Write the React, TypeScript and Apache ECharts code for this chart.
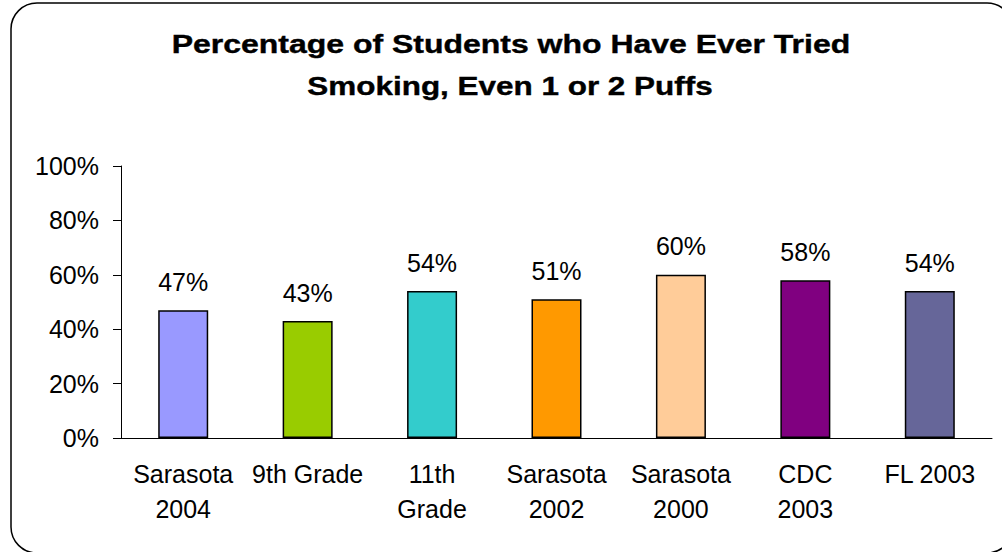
import React, { useEffect, useRef } from "react";
import * as echarts from "echarts";

const categories = ["Sarasota\n2004", "9th Grade", "11th\nGrade", "Sarasota\n2002", "Sarasota\n2000", "CDC\n2003", "FL 2003"];
const values = [47, 43, 54, 51, 60, 58, 54];
const barColors = ["#9999FF", "#99CC00", "#33CCCC", "#FF9900", "#FFCC99", "#800080", "#666699"];
const titleLines = ["Percentage of Students who Have Ever Tried", "Smoking, Even 1 or 2 Puffs"];

const FONT = "'Liberation Sans', Arial, sans-serif";

export default function App() {
  const ref = useRef<HTMLDivElement>(null);
  useEffect(() => {
    if (!ref.current) return;
    const chart = echarts.init(ref.current, null, { renderer: "svg" });
    chart.setOption({
      animation: false,
      backgroundColor: "#ffffff",
      textStyle: { fontFamily: FONT, color: "#000" },
      graphic: [
        {
          type: "rect",
          shape: { x: 11, y: 3, width: 1002, height: 550, r: 26 },
          style: { fill: "none", stroke: "#000", lineWidth: 1.5 },
          silent: true,
        },
        ...titleLines.map((t, i) => ({
          type: "text",
          x: i === 0 ? 511 : 510,
          y: i === 0 ? 44 : 86,
          scaleX: i === 0 ? 1.23 : 1.21,
          style: {
            text: t,
            fontSize: 26,
            fontWeight: "bold",
            fontFamily: FONT,
            fill: "#000",
            stroke: "#000",
            lineWidth: 0.4,
            align: "center",
            verticalAlign: "middle",
          },
        })),
      ],
      grid: { left: 121, right: 10, top: 166, bottom: 114, containLabel: false },
      xAxis: {
        type: "category",
        data: categories,
        axisLine: { lineStyle: { color: "#000", width: 1 } },
        axisTick: { length: 8, lineStyle: { color: "#000" } },
        axisLabel: {
          fontSize: 25,
          color: "#000",
          fontFamily: FONT,
          margin: 18,
          lineHeight: 35,
          interval: 0,
        },
      },
      yAxis: {
        type: "value",
        min: 0,
        max: 100,
        interval: 20,
        splitLine: { show: false },
        axisLine: { show: true, lineStyle: { color: "#000", width: 1 } },
        axisTick: { show: true, length: 8, lineStyle: { color: "#000" } },
        axisLabel: {
          fontSize: 25,
          color: "#000",
          fontFamily: FONT,
          margin: 22,
          formatter: "{value}%",
        },
      },
      series: [
        {
          type: "bar",
          data: values.map((v, i) => ({ value: v, itemStyle: { color: barColors[i] } })),
          barWidth: 50,
          itemStyle: { borderColor: "#000", borderWidth: 1.5 },
          label: {
            show: true,
            position: "top",
            distance: 16,
            fontSize: 25,
            color: "#000",
            fontFamily: FONT,
            formatter: "{c}%",
          },
        },
      ],
    });
    return () => chart.dispose();
  }, []);
  return (
    <div
      ref={ref}
      style={{ position: "fixed", left: 0, top: 0, width: 1002, height: 552, background: "#fff" }}
    />
  );
}
